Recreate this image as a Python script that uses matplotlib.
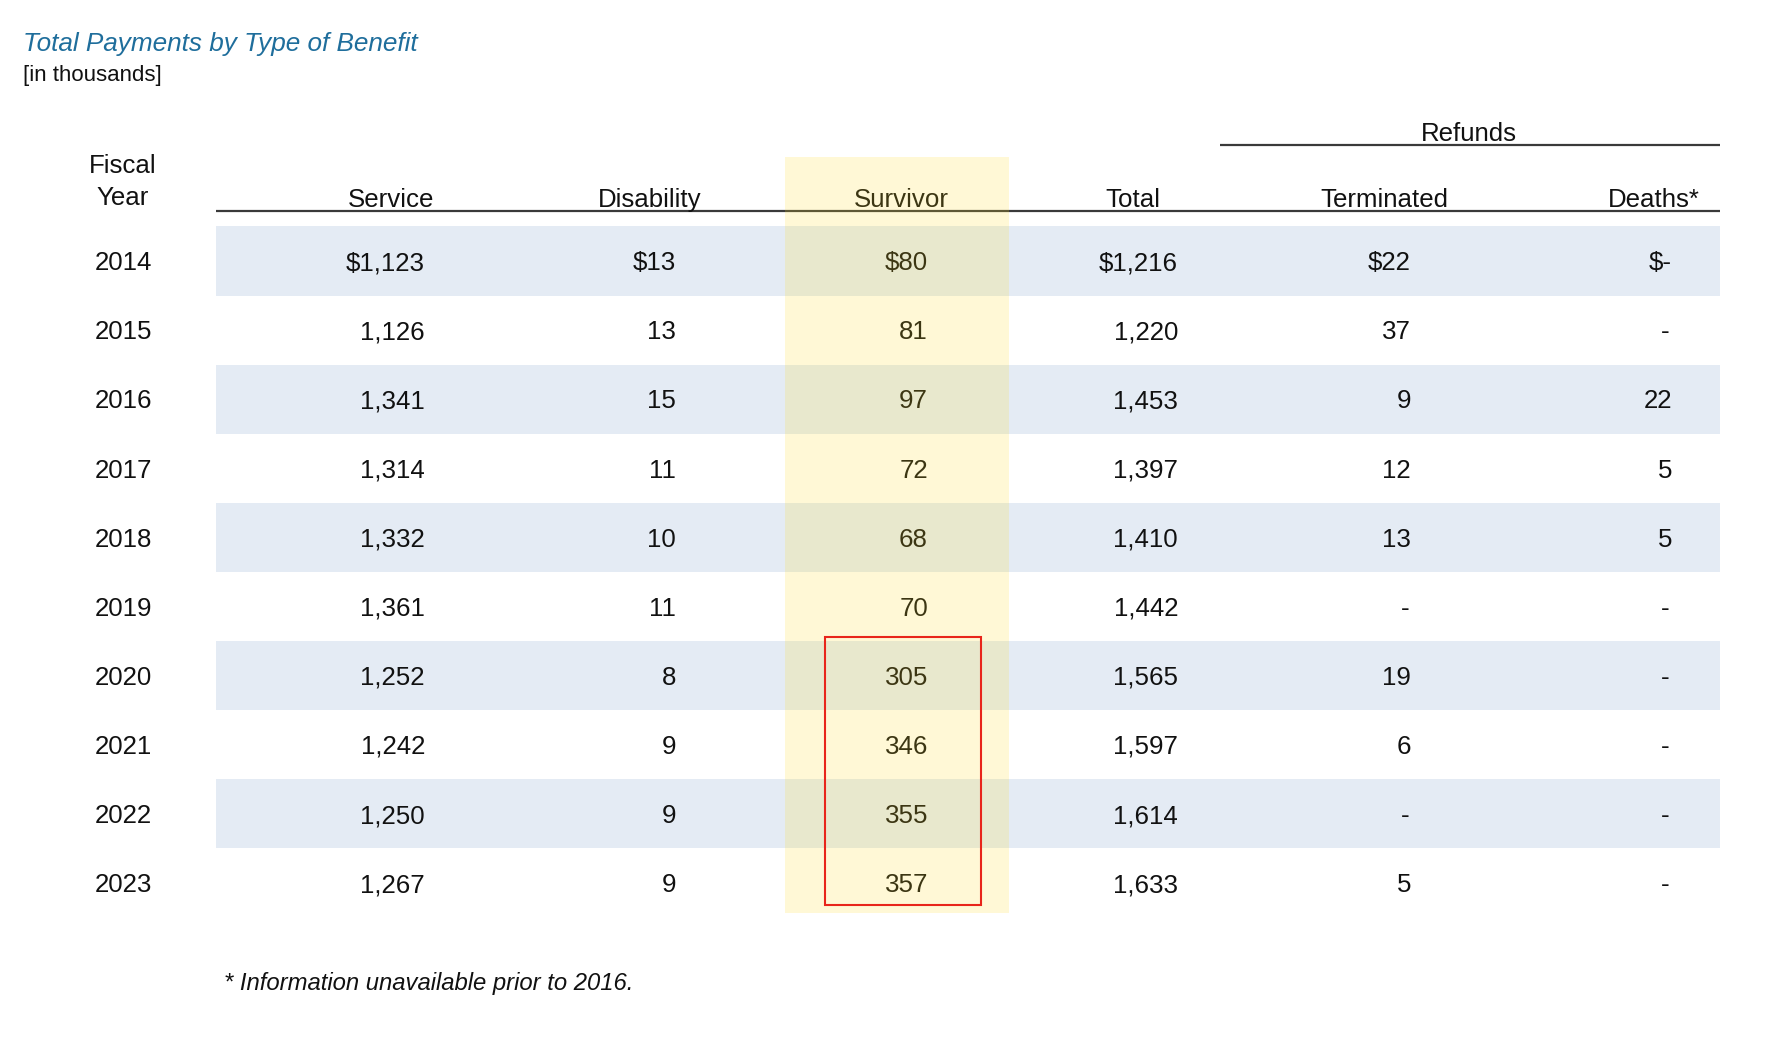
import matplotlib
matplotlib.use("Agg")
import matplotlib.pyplot as plt
from matplotlib.patches import Rectangle

# ---------------- data ----------------
years = [2014, 2015, 2016, 2017, 2018, 2019, 2020, 2021, 2022, 2023]
service = [1123, 1126, 1341, 1314, 1332, 1361, 1252, 1242, 1250, 1267]
disability = [13, 13, 15, 11, 10, 11, 8, 9, 9, 9]
survivor = [80, 81, 97, 72, 68, 70, 305, 346, 355, 357]
total = [1216, 1220, 1453, 1397, 1410, 1442, 1565, 1597, 1614, 1633]
terminated = [22, 37, 9, 12, 13, None, 19, 6, None, 5]
deaths = [None, None, 22, 5, 5, None, None, None, None, None]

col_headers = ["Service", "Disability", "Survivor", "Total", "Terminated", "Deaths*"]
title = "Total Payments by Type of Benefit"
subtitle = "[in thousands]"
group_header = "Refunds"
footnote = "* Information unavailable prior to 2016."
highlight_years = [2020, 2021, 2022, 2023]

columns = [service, disability, survivor, total, terminated, deaths]

# ---------------- layout (pixel coordinates) ----------------
W, H = 1779, 1051
FONT = "Liberation Sans"
FS = 18.6
TXT = "#111111"

year_x = 123
head_x = [391, 650, 901, 1133, 1384, 1654]
right_x = [425, 676, 928, 1178, 1411, 1672]
row0_y = 261
row_h = 69.1
table_left, table_right = 216, 1720
refunds_left = 1220

fig = plt.figure(figsize=(W / 100, H / 100), dpi=100)
ax = fig.add_axes([0, 0, 1, 1])
ax.set_xlim(0, W)
ax.set_ylim(H, 0)
ax.axis("off")

cap = 0.716 * FS * 100 / 72  # cap height in px


def fmt(v, first):
    if v is None:
        return "$-" if first else "-"
    s = f"{v:,}"
    return "$" + s if first else s


# title
ax.text(23, 51.5, title, fontsize=18.8, fontstyle="italic", color="#1f6e9c",
        family=FONT, ha="left", va="baseline")
ax.text(23, 80.5, subtitle, fontsize=16, color=TXT, family=FONT,
        ha="left", va="baseline")

# row bands
for i, y in enumerate(years):
    cy = row0_y + i * row_h
    if i % 2 == 0:
        ax.add_patch(Rectangle((table_left, cy - row_h / 2), table_right - table_left,
                               row_h, facecolor="#e4ebf4", edgecolor="none", zorder=1))

# header lines
ax.plot([table_left, table_right], [211, 211], color="#3a3a3a", lw=1.6, zorder=3,
        solid_capstyle="butt")
ax.plot([refunds_left, table_right], [145, 145], color="#3a3a3a", lw=1.6, zorder=3,
        solid_capstyle="butt")
ax.text(1469, 141, group_header, fontsize=FS, color=TXT, family=FONT,
        ha="center", va="baseline", zorder=4)

# headers
ax.text(year_x, 173, "Fiscal", fontsize=FS, color=TXT, family=FONT,
        ha="center", va="baseline", zorder=4)
ax.text(year_x, 205, "Year", fontsize=FS, color=TXT, family=FONT,
        ha="center", va="baseline", zorder=4)
for hx, h in zip(head_x, col_headers):
    ax.text(hx, 207, h, fontsize=FS, color=TXT, family=FONT,
            ha="center", va="baseline", zorder=4)

# values
for i, yr in enumerate(years):
    cy = row0_y + i * row_h
    base = cy + cap / 2
    ax.text(year_x, base, str(yr), fontsize=FS, color=TXT, family=FONT,
            ha="center", va="baseline", zorder=4)
    for c, col in enumerate(columns):
        v = col[i]
        s = fmt(v, i == 0)
        x = right_x[c]
        if v is None and i != 0:
            x -= 2
        ax.text(x, base, s, fontsize=FS, color=TXT, family=FONT,
                ha="right", va="baseline", zorder=4)

# survivor highlight column (semi-transparent overlay)
ax.add_patch(Rectangle((785, 157), 1009 - 785, 913 - 157, facecolor="#ffde21",
                       alpha=0.185, edgecolor="none", zorder=5))

# red box around recent survivor values
i0 = years.index(highlight_years[0])
i1 = years.index(highlight_years[-1])
top = row0_y + i0 * row_h - row_h / 2 - 4
bot = row0_y + i1 * row_h + row_h / 2 - 12
ax.add_patch(Rectangle((825, top), 981 - 825, bot - top, facecolor="none",
                       edgecolor="#e8251b", lw=1.5, zorder=6))

# footnote
ax.text(224, 990, footnote, fontsize=17.2, fontstyle="italic", color=TXT,
        family=FONT, ha="left", va="baseline")

fig.savefig("out.png", dpi=100, facecolor="white")
